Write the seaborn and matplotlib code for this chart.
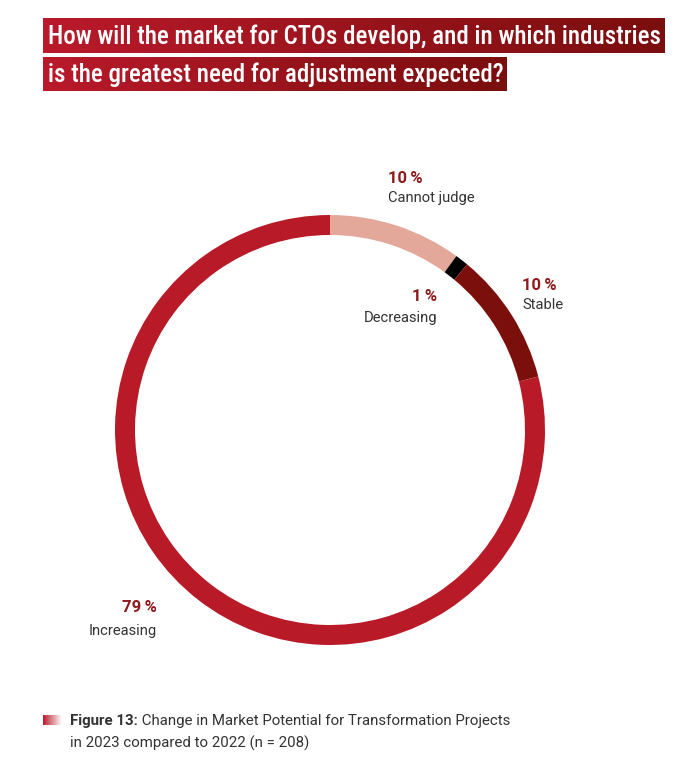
import numpy as np
import matplotlib
matplotlib.use("Agg")
import matplotlib.pyplot as plt
import seaborn as sns
from matplotlib.colors import LinearSegmentedColormap

categories = ["Cannot judge", "Decreasing", "Stable", "Increasing"]
values = [10, 1, 10, 79]
pct_labels = ["10\u2009%", "1\u2009%", "10\u2009%", "79\u2009%"]
colors = ["#E3A89A", "#000000", "#7B0F0B", "#B81A28"]
title_lines = ["How will the market for CTOs develop, and in which industries",
               "is the greatest need for adjustment expected?"]
caption_bold = "Figure 13:"
caption_rest = " Change in Market Potential for Transformation Projects"
caption_line2 = "in 2023 compared to 2022 (n = 208)"

sns.set_theme(style="white")
plt.rcParams['font.family'] = ['Roboto', 'DejaVu Sans']

W, H = 696, 778
fig = plt.figure(figsize=(W / 100, H / 100), dpi=100)
fig.patch.set_facecolor("white")

# Donut
cx, cy, r = 330, 430, 215
ax = fig.add_axes([(cx - r) / W, (H - cy - r) / H, 2 * r / W, 2 * r / H])
ax.pie(values, colors=colors, startangle=90, counterclock=False,
       radius=1.0, wedgeprops=dict(width=20 / r, edgecolor="none"))
ax.set_xlim(-1, 1)
ax.set_ylim(-1, 1)
ax.set_aspect("equal")
ax.axis("off")

# Overlay axes in pixel coords
ov = fig.add_axes([0, 0, 1, 1], zorder=5)
ov.set_xlim(0, W)
ov.set_ylim(H, 0)
ov.axis("off")
ov.patch.set_alpha(0)

grad = LinearSegmentedColormap.from_list("g", ["#BA1A2B", "#7A0E0E"])
g = np.linspace(0, 1, 256).reshape(1, -1)
boxes = [(43, 665, 18, 53), (43, 507, 57, 91)]
for (x0, x1, y0, y1), line in zip(boxes, title_lines):
    ov.imshow(g, cmap=grad, extent=(x0, x1, y1, y0), aspect="auto", zorder=1)
    ov.text(x0 + 5, (y0 + y1) / 2 + 1, line, color="white", fontsize=17.9,
            fontweight="medium", va="center", ha="left", zorder=2,
            family=['Roboto Condensed', 'Roboto', 'DejaVu Sans'])

pct_color = "#8E1A1A"
lab_color = "#333333"
label_pos = {
    "Cannot judge": (388, 178, 198, "left"),
    "Decreasing": (437, 296, 318, "right"),
    "Stable": (522, 285, 305, "left"),
    "Increasing": (157, 608, 631, "right"),
}
for cat, p in zip(categories, pct_labels):
    x, yp, yl, ha = label_pos[cat]
    ov.text(x, yp, p, color=pct_color, fontsize=12, fontweight="bold",
            ha=ha, va="center", family=['Roboto', 'DejaVu Sans'])
    ov.text(x, yl, cat, color=lab_color, fontsize=10.6, ha=ha, va="center")

# Caption
cgrad = LinearSegmentedColormap.from_list("c", ["#BA1A2B", "#FFFFFF"])
ov.imshow(g, cmap=cgrad, extent=(43, 62, 725, 715), aspect="auto")
t = ov.text(70, 721, caption_bold, color="#333333", fontsize=10.8,
            fontweight="bold", ha="left", va="center")
fig.canvas.draw()
bb = t.get_window_extent()
x_end = bb.x1
ov.annotate(caption_rest, xy=(x_end, H - 721), xycoords="figure pixels",
            color="#333333", fontsize=10.8, ha="left", va="center")
ov.text(70, 743, caption_line2, color="#333333", fontsize=10.8,
        ha="left", va="center")

fig.savefig("out.png", dpi=100, facecolor="white")
